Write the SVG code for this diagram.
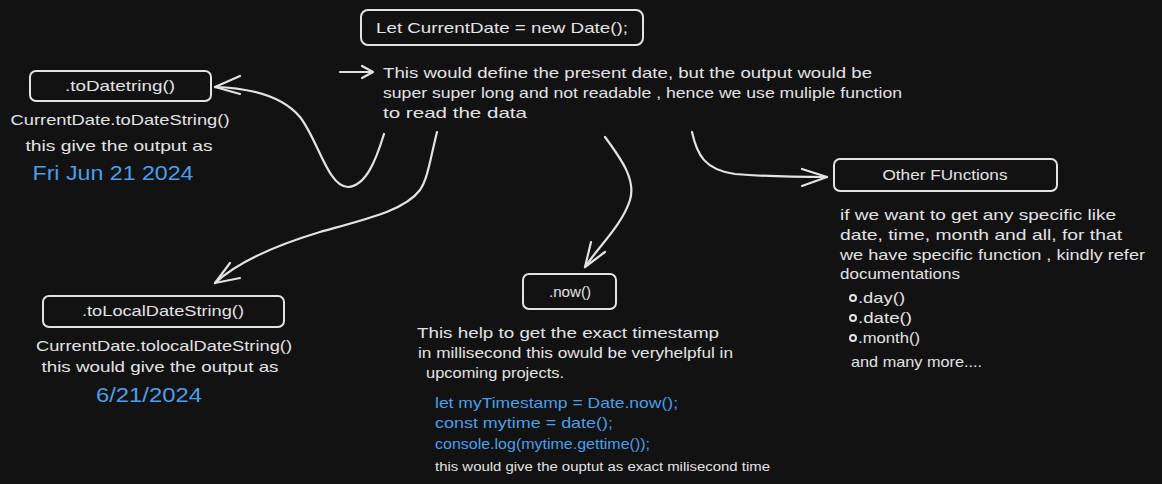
<svg xmlns="http://www.w3.org/2000/svg" width="1162" height="484" viewBox="0 0 1162 484">
<style>
text{font-family:"Liberation Sans",Arial,sans-serif;fill:#e3e3e3;font-size:15px}
.c{text-anchor:middle}
.b{fill:#4a9fe8}
.box{fill:#121212;stroke:#e3e3e3;stroke-width:2}
.ln{fill:none;stroke:#e3e3e3;stroke-width:2.2;stroke-linecap:round;stroke-linejoin:round}
.dot{fill:none;stroke:#e3e3e3;stroke-width:2}
</style>
<rect width="1162" height="484" fill="#121212"/>
<g id="connectors">
<path class="ln" d="M340 72 L372 72 M362 66 L373 72 L362 78"/>
<path class="ln" d="M384 134 C376 160 366 186 348 187 C328 187 318 140 300 117 C282 96 250 88 215 87"/>
<path class="ln" d="M215 87 L240 76 M215 87 L240 94"/>
<path class="ln" d="M437 132 C430 160 428 178 420 190 C405 210 370 218 320 232 C280 244 240 260 215 283"/>
<path class="ln" d="M215 283 L230 263 M215 283 L240 278"/>
<path class="ln" d="M605 137 C622 160 636 180 630 200 C622 225 600 245 585 267"/>
<path class="ln" d="M585 267 L591 242 M585 267 L605 252"/>
<path class="ln" d="M692 132 C697 155 705 170 735 174 C770 177 800 177 827 177"/>
<path class="ln" d="M827 177 L802 169 M827 177 L802 186"/>
</g>
<g id="node-currentdate">
<rect class="box" x="361" y="10" width="282" height="35" rx="7"/>
<text x="502" y="33" class="c" textLength="252" lengthAdjust="spacingAndGlyphs">Let CurrentDate = new Date();</text>
</g>
<g id="note-currentdate">
<text x="383" y="78" textLength="489" lengthAdjust="spacingAndGlyphs">This would define the present date, but the output would be</text>
<text x="383" y="98" textLength="519" lengthAdjust="spacingAndGlyphs">super super long and not readable , hence we use muliple function</text>
<text x="383" y="118" textLength="144" lengthAdjust="spacingAndGlyphs">to read the data</text>
</g>
<g id="node-todatestring">
<rect class="box" x="30" y="71" width="181" height="30" rx="6"/>
<text x="120" y="91" class="c" textLength="110" lengthAdjust="spacingAndGlyphs">.toDatetring()</text>
<text x="120" y="125" class="c" textLength="219" lengthAdjust="spacingAndGlyphs">CurrentDate.toDateString()</text>
<text x="119" y="151" class="c" textLength="187" lengthAdjust="spacingAndGlyphs">this give the output as</text>
<text x="113" y="180" class="c b" style="font-size:20px" textLength="161" lengthAdjust="spacingAndGlyphs">Fri Jun 21 2024</text>
</g>
<g id="node-tolocaldatestring">
<rect class="box" x="43" y="296" width="241" height="31" rx="6"/>
<text x="163" y="316" class="c" textLength="162" lengthAdjust="spacingAndGlyphs">.toLocalDateString()</text>
<text x="164" y="351" class="c" textLength="256" lengthAdjust="spacingAndGlyphs">CurrentDate.tolocalDateString()</text>
<text x="160" y="372" class="c" textLength="237" lengthAdjust="spacingAndGlyphs">this would give the output as</text>
<text x="149" y="402" class="c b" style="font-size:20px" textLength="106" lengthAdjust="spacingAndGlyphs">6/21/2024</text>
</g>
<g id="node-now">
<rect class="box" x="523" y="274" width="93" height="35" rx="6"/>
<text x="570" y="297" class="c" textLength="42" lengthAdjust="spacingAndGlyphs">.now()</text>
<text x="417" y="338" textLength="302" lengthAdjust="spacingAndGlyphs">This help to get the exact timestamp</text>
<text x="418" y="358" textLength="315" lengthAdjust="spacingAndGlyphs">in millisecond this owuld be veryhelpful in</text>
<text x="426" y="378" textLength="138" lengthAdjust="spacingAndGlyphs">upcoming projects.</text>
<text x="435" y="408" class="b" textLength="243" lengthAdjust="spacingAndGlyphs">let myTimestamp = Date.now();</text>
<text x="435" y="428" class="b" textLength="178" lengthAdjust="spacingAndGlyphs">const mytime = date();</text>
<text x="435" y="449" class="b" textLength="215" lengthAdjust="spacingAndGlyphs">console.log(mytime.gettime());</text>
<text x="435" y="471" style="font-size:12px" textLength="335" lengthAdjust="spacingAndGlyphs">this would give the ouptut as exact milisecond time</text>
</g>
<g id="node-other">
<rect class="box" x="834" y="159" width="223" height="32" rx="6"/>
<text x="945" y="180" class="c" textLength="125" lengthAdjust="spacingAndGlyphs">Other FUnctions</text>
<text x="840" y="220" textLength="276" lengthAdjust="spacingAndGlyphs">if we want to get any specific like</text>
<text x="840" y="240" textLength="282" lengthAdjust="spacingAndGlyphs">date, time, month and all, for that</text>
<text x="840" y="260" textLength="305" lengthAdjust="spacingAndGlyphs">we have specific function , kindly refer</text>
<text x="840" y="279" textLength="120" lengthAdjust="spacingAndGlyphs">documentations</text>
<circle class="dot" cx="853" cy="298" r="3"/>
<text x="858" y="303" textLength="47" lengthAdjust="spacingAndGlyphs">.day()</text>
<circle class="dot" cx="853" cy="318" r="3"/>
<text x="858" y="323" textLength="54" lengthAdjust="spacingAndGlyphs">.date()</text>
<circle class="dot" cx="853" cy="338" r="3"/>
<text x="858" y="343" textLength="62" lengthAdjust="spacingAndGlyphs">.month()</text>
<text x="851" y="367" textLength="131" lengthAdjust="spacingAndGlyphs">and many more....</text>
</g>
</svg>
